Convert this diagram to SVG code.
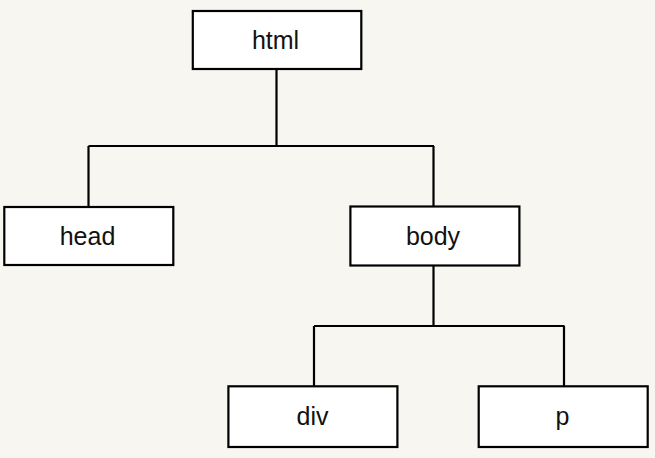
<svg xmlns="http://www.w3.org/2000/svg" width="655" height="458" viewBox="0 0 655 458">
<style>
.box{fill:#ffffff;stroke:#000000;stroke-width:2.2}
.lbl{font-family:"Liberation Sans",Arial,sans-serif;font-size:25px;fill:#111111;text-anchor:middle}
.wire{fill:none;stroke:#000000;stroke-width:2.2}
</style>
<rect x="0" y="0" width="655" height="458" fill="#f7f6f1"/>
<g id="connectors">
<path class="wire" d="M276.5,70 V146 M88.5,146 H434 M88.5,146 V206 M433.5,146 V206"/>
<path class="wire" d="M433.5,266 V326 M314,326 H564.5 M314,326 V386 M564,326 V386"/>
</g>
<g id="html"><rect class="box" x="192.8" y="11" width="168.5" height="58"/><text class="lbl" x="275.5" y="48.5">html</text></g>
<g id="head"><rect class="box" x="4.3" y="207" width="169" height="58"/><text class="lbl" x="87.5" y="244.5">head</text></g>
<g id="body"><rect class="box" x="350.4" y="206.5" width="169" height="59"/><text class="lbl" x="433" y="244.5">body</text></g>
<g id="div"><rect class="box" x="228.4" y="386.3" width="169" height="60.7"/><text class="lbl" x="312.5" y="424.5">div</text></g>
<g id="p"><rect class="box" x="478.7" y="386.3" width="169" height="60.7"/><text class="lbl" x="562.5" y="424.5">p</text></g>
</svg>
